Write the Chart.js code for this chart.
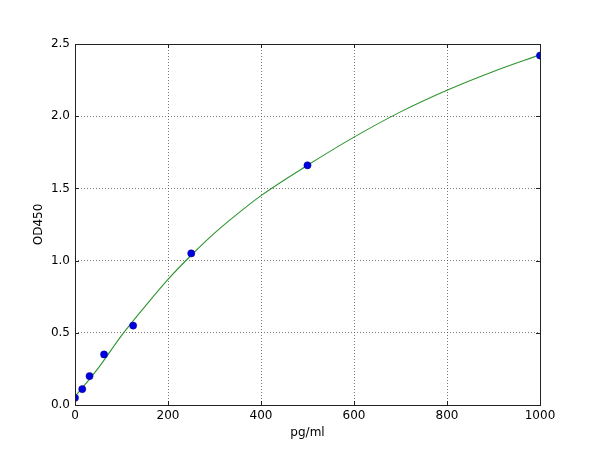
<!DOCTYPE html>
<html>
<head>
<meta charset="utf-8">
<script src="https://cdn.jsdelivr.net/npm/chart.js@4"></script>
<style>
  html, body { margin: 0; padding: 0; background: #fff; }
  #wrap { width: 600px; height: 450px; }
</style>
</head>
<body>
<div id="wrap"><canvas id="myChart" width="600" height="450"></canvas></div>
<script>
'use strict';

// DATA

// standard concentrations (pg/ml) and measured OD450
let concentrations = [0, 15.6, 31.25, 62.5, 125, 250, 500, 1000];
let odValues = [0.05, 0.11, 0.20, 0.35, 0.55, 1.05, 1.66, 2.42];

// fitted curve
let curveX = [0, 25, 50, 100, 150, 200, 250, 300, 350, 400, 500, 600, 700, 800, 900, 1000];
let curveY = [0.06, 0.155, 0.255, 0.48, 0.68, 0.87, 1.037, 1.19, 1.325, 1.45, 1.66, 1.855, 2.03, 2.18, 2.31, 2.425];

let xTicks = [0, 200, 400, 600, 800, 1000];
let yTicks = [0, 0.5, 1.0, 1.5, 2.0, 2.5];

let tickFont = { family: 'DejaVu Sans', size: 12 };

function toPoints(xs, ys) {
  let pts = [];
  for (let i = 0; i < xs.length; i++) {
    pts.push({ x: xs[i], y: ys[i] });
  }
  return pts;
}

// frame box and inward tick marks, like the original plot
const frameAndTicks = {
  id: 'frameAndTicks',
  afterDatasetsDraw(chart) {
    let ctx = chart.ctx;
    let a = chart.chartArea;
    let xs = chart.scales.x;
    let ys = chart.scales.y;
    ctx.save();
    ctx.strokeStyle = '#222';
    ctx.lineWidth = 1;
    ctx.beginPath();
    for (let i = 0; i < xTicks.length; i++) {
      let px = Math.round(xs.getPixelForValue(xTicks[i])) + 0.5;
      ctx.moveTo(px, a.bottom); ctx.lineTo(px, a.bottom - 4);
      ctx.moveTo(px, a.top); ctx.lineTo(px, a.top + 4);
    }
    for (let i = 0; i < yTicks.length; i++) {
      let py = Math.round(ys.getPixelForValue(yTicks[i])) + 0.5;
      ctx.moveTo(a.left, py); ctx.lineTo(a.left + 4, py);
      ctx.moveTo(a.right, py); ctx.lineTo(a.right - 4, py);
    }
    ctx.stroke();
    ctx.strokeRect(Math.round(a.left) + 0.5, Math.round(a.top) + 0.5,
      Math.round(a.right - a.left), Math.round(a.bottom - a.top));
    ctx.restore();
  }
};

const data = {
  datasets: [
    {
      label: 'fit',
      data: toPoints(curveX, curveY),
      showLine: true,
      borderColor: '#2e952e',
      borderWidth: 1.1,
      pointRadius: 0,
      cubicInterpolationMode: 'monotone',
      order: 2
    },
    {
      label: 'standards',
      data: toPoints(concentrations, odValues),
      showLine: false,
      backgroundColor: '#0000e0',
      borderColor: '#000080',
      borderWidth: 0.5,
      pointRadius: 3.6,
      order: 1
    }
  ]
};

const config = {
  type: 'scatter',
  data: data,
  options: {
    responsive: false,
    animation: false,
    layout: { padding: { left: 0, top: 44, right: 60, bottom: 0 } },
    plugins: {
      legend: { display: false },
      tooltip: { enabled: false }
    },
    scales: {
      x: {
        type: 'linear',
        min: 0,
        max: 1000,
        afterBuildTicks(scale) { scale.ticks = xTicks.map(v => ({ value: v })); },
        afterFit(scale) { scale.height = 45; },
        ticks: { color: '#000', font: tickFont, padding: 4, maxRotation: 0, callback: v => String(v) },
        grid: { color: '#555', lineWidth: 0.8, drawTicks: false },
        border: { display: false, dash: [1, 2] },
        title: { display: true, text: 'pg/ml', color: '#000', font: tickFont, padding: { top: 0, bottom: 10 } }
      },
      y: {
        type: 'linear',
        min: 0,
        max: 2.5,
        afterBuildTicks(scale) { scale.ticks = yTicks.map(v => ({ value: v })); },
        afterFit(scale) { scale.width = 75; },
        ticks: { color: '#000', font: tickFont, padding: 5, callback: v => v.toFixed(1) },
        grid: { color: '#555', lineWidth: 0.8, drawTicks: false },
        border: { display: false, dash: [1, 2] },
        title: { display: true, text: 'OD450', color: '#000', font: tickFont, padding: { top: 32, bottom: 0 } }
      }
    }
  },
  plugins: [frameAndTicks]
};

let canvas = document.getElementById('myChart').getContext('2d');
new Chart(canvas, config);
</script>
</body>
</html>
